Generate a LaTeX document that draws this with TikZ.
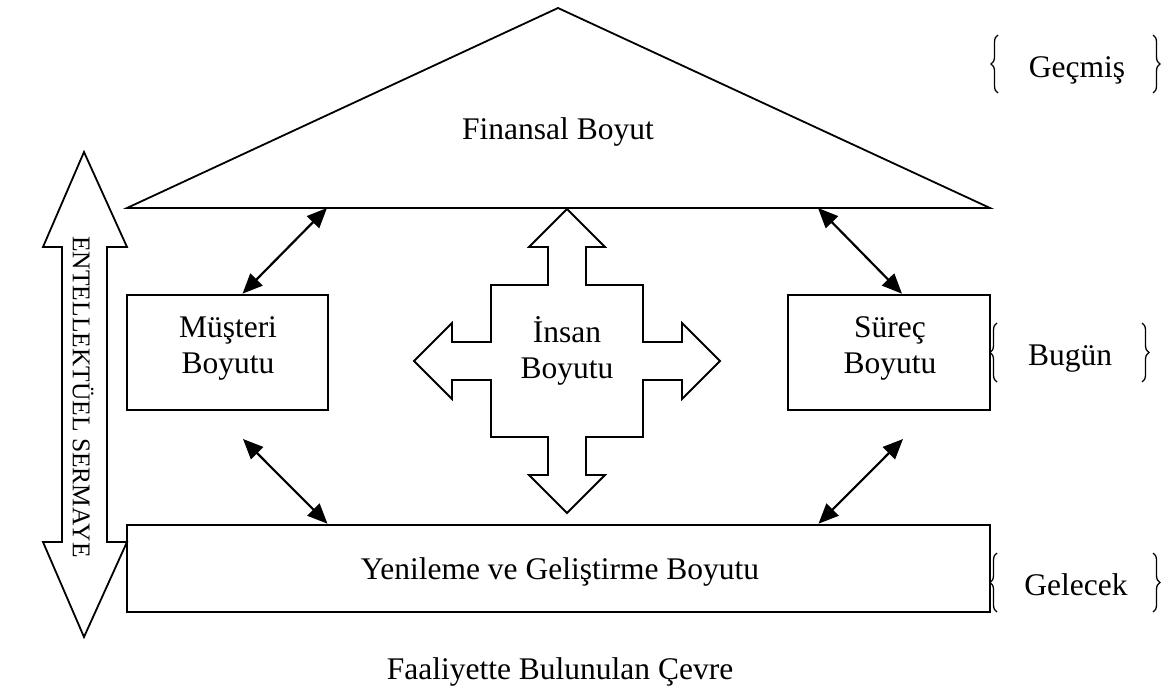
\documentclass[tikz,border=0pt]{standalone}
\usepackage{fontspec}
\setmainfont{Liberation Serif}
\usetikzlibrary{arrows.meta,decorations.pathreplacing}

\begin{document}
\begin{tikzpicture}[x=1pt,y=-1pt,
  lbl/.style={font=\fontsize{31.5}{36}\selectfont, inner sep=0pt, align=center},
  dimbox/.style={draw, line width=2.6pt, minimum height=115pt, inner sep=0pt},
  conn/.style={line width=2.2pt,
    {Triangle[length=20pt,width=17pt]}-{Triangle[length=20pt,width=17pt]}},
  outline/.style={draw, line width=1.8pt, line join=miter},
  bracel/.style={decorate, decoration={brace, amplitude=7pt}, line width=1.3pt}
]
\useasboundingbox (0,0) rectangle (1171,688);

% roof: financial dimension
\draw[outline] (127,208) -- (558,8) -- (990,208) -- cycle;
\node[lbl, anchor=base] (finansal) at (558,139) {Finansal Boyut};
\coordinate (finLeft) at (327,208);
\coordinate (finRight) at (818,208);

% intellectual capital: vertical double block arrow
\draw[outline] (84,152) -- (127,247) -- (107,247) -- (107,542) -- (127,542)
  -- (84,637) -- (43,542) -- (62,542) -- (62,247) -- (43,247) -- cycle;
\node[font=\fontsize{25.5}{28}\selectfont, inner sep=0pt, rotate=-90] (sermaye)
  at (83,397) {ENTELLEKTÜEL SERMAYE};

% boxes
\node[dimbox, minimum width=201pt] (musteri) at (227.5,352.5) {};
\node[lbl, anchor=base] (musteriTxt) at (228,373) {Müşteri\\Boyutu};
\node[dimbox, minimum width=202pt] (surec) at (889,352.5) {};
\node[lbl, anchor=base] (surecTxt) at (890,373) {Süreç\\Boyutu};
\node[dimbox, minimum width=863pt, minimum height=87pt] (yenileme) at (558.5,568.5) {};
\node[lbl, anchor=base] (yenilemeTxt) at (560,579) {Yenileme ve Geliştirme Boyutu};

% human dimension: four-way block arrow
\begin{scope}[shift={(567,361)}]
\draw[outline] (0,-152) -- (38,-114) -- (19,-114) -- (19,-76) -- (76,-76)
  -- (76,-19) -- (115,-19) -- (115,-38) -- (153,0) -- (115,38) -- (115,19)
  -- (76,19) -- (76,76) -- (19,76) -- (19,114) -- (38,114) -- (0,152)
  -- (-38,114) -- (-19,114) -- (-19,76) -- (-76,76) -- (-76,19) -- (-115,19)
  -- (-115,38) -- (-153,0) -- (-115,-38) -- (-115,-19) -- (-76,-19)
  -- (-76,-76) -- (-19,-76) -- (-19,-114) -- (-38,-114) -- cycle;
\end{scope}
\node[lbl, anchor=base] (insan) at (567,378) {İnsan\\Boyutu};

% connectors
\draw[conn] ([xshift=15pt]musteri.north) -- (finLeft);
\draw[conn] (finRight) -- ([xshift=13pt]surec.north);
\coordinate (musteriLow) at (243,439);
\coordinate (surecLow) at (903,439);
\draw[conn] (musteriLow) -- ([xshift=-231pt]yenileme.north);
\draw[conn] (surecLow) -- ([xshift=260pt]yenileme.north);

% time labels with braces
\node[lbl, anchor=base] (gecmis) at (1077,77) {Geçmiş};
\draw[bracel] (998,93) -- (998,35);
\draw[bracel] (1153,35) -- (1153,93);
\node[lbl, anchor=base] (bugun) at (1070,365) {Bugün};
\draw[bracel] (997,382) -- (997,323);
\draw[bracel] (1142,323) -- (1142,382);
\node[lbl, anchor=base] (gelecek) at (1076,595) {Gelecek};
\draw[bracel] (997,612) -- (997,553);
\draw[bracel] (1153,553) -- (1153,612);

% environment caption
\node[lbl, anchor=base] (cevre) at (560,679) {Faaliyette Bulunulan Çevre};
\end{tikzpicture}
\end{document}
